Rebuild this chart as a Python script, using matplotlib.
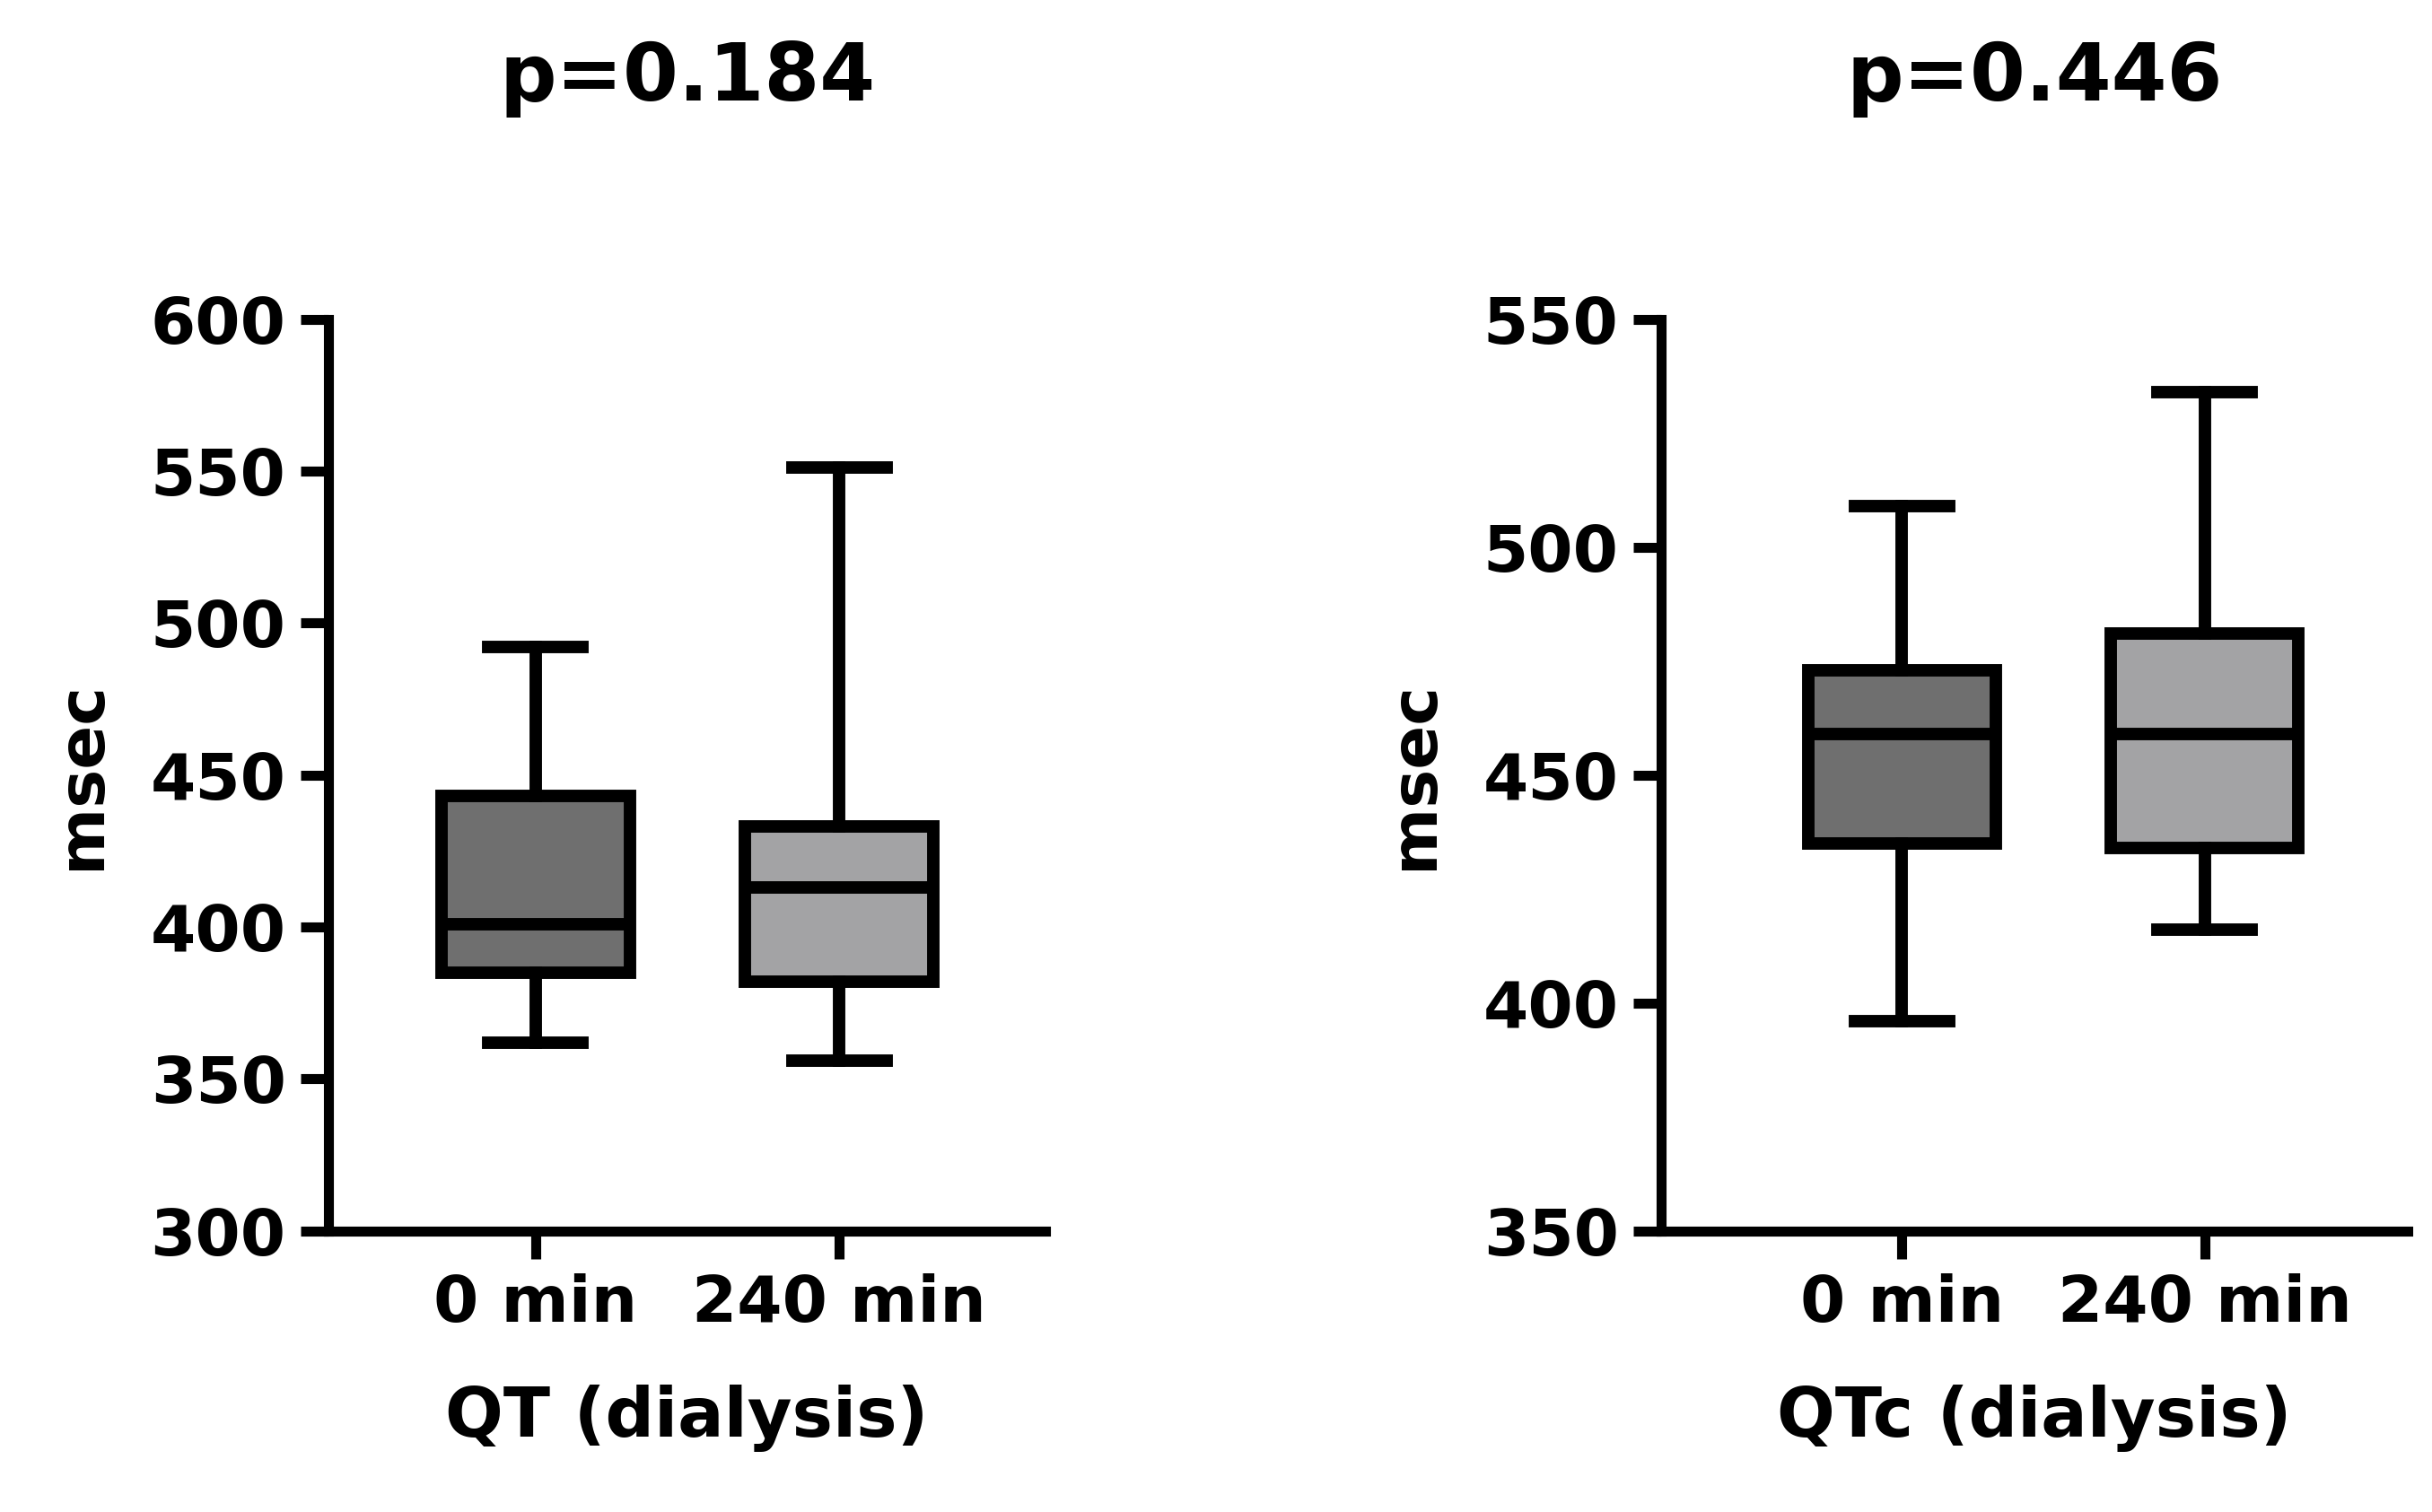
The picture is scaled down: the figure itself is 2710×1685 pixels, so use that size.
import matplotlib.pyplot as plt

groups = ["0 min", "240 min"]
qt_stats = [  # whislo, q1, med, q3, whishi
    (362, 385, 401, 443, 492),
    (356, 382, 413, 433, 551),
]
qtc_stats = [
    (396, 435, 459, 473, 509),
    (416, 434, 459, 481, 534),
]
colors = ["#6f6f6f", "#a3a3a5"]

plt.rcParams['font.family'] = ['DejaVu Sans']
plt.rcParams['font.weight'] = 'bold'

fig = plt.figure(figsize=(27.1, 16.85), dpi=100)
ax1 = fig.add_axes([0.135, 0.186, 0.295, 0.603])
ax2 = fig.add_axes([0.683, 0.186, 0.307, 0.603])


def draw(ax, stats, ylim, yticks, xlim, xlabel, title):
    bx = [dict(whislo=s[0], q1=s[1], med=s[2], q3=s[3], whishi=s[4], label=g)
          for s, g in zip(stats, groups)]
    lw = 10
    b = ax.bxp(bx, positions=[1, 2], widths=0.62, showfliers=False,
               patch_artist=True,
               boxprops=dict(linewidth=lw, edgecolor='black'),
               medianprops=dict(linewidth=lw, color='black'),
               whiskerprops=dict(linewidth=lw, color='black'),
               capprops=dict(linewidth=lw, color='black'),
               capwidths=0.31)
    for p, c in zip(b['boxes'], colors):
        p.set_facecolor(c)
    ax.set_ylim(*ylim)
    ax.set_yticks(yticks)
    ax.set_xlim(*xlim)
    for s in ['top', 'right']:
        ax.spines[s].set_visible(False)
    for s in ['left', 'bottom']:
        ax.spines[s].set_linewidth(8)
    ax.tick_params(width=8, length=22, labelsize=52, pad=12)
    ax.set_ylabel("msec", fontsize=52, fontweight='bold', labelpad=30)
    ax.set_xlabel(xlabel, fontsize=55, fontweight='bold', labelpad=40)
    ax.set_title(title, fontsize=64, fontweight='bold', pad=175)


draw(ax1, qt_stats, (300, 600), range(300, 601, 50), (0.318, 2.68),
     "QT (dialysis)", "p=0.184")
draw(ax2, qtc_stats, (350, 550), range(350, 551, 50), (0.205, 2.67),
     "QTc (dialysis)", "p=0.446")

fig.savefig("out.png", dpi=100)
